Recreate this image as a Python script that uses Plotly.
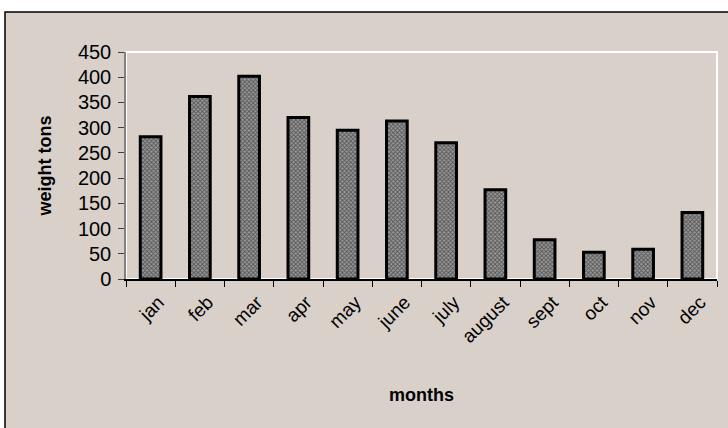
import plotly.graph_objects as go

months = ["jan", "feb", "mar", "apr", "may", "june", "july", "august", "sept", "oct", "nov", "dec"]
weight_tons = [282, 362, 402, 320, 295, 313, 270, 177, 78, 53, 59, 132]
y_ticks = [0, 50, 100, 150, 200, 250, 300, 350, 400, 450]

W, H = 728, 428
L, R, T, B = 126, 11, 52, 149
pw, ph = W - L - R, H - T - B

def px_x(x):
    return (x - L) / pw

def px_y(y):
    return (H - B - y) / ph

bg = "#d9d0ca"
font = "Liberation Sans, Arial, sans-serif"

fig = go.Figure(go.Bar(
    x=months, y=weight_tons, width=0.42,
    marker=dict(
        color="#808080",
        line=dict(color="black", width=3),
        pattern=dict(shape="x", size=3, solidity=0.5, fgcolor="#555555", bgcolor="#9a9a9a", fillmode="replace"),
    ),
))

fig.update_layout(
    width=W, height=H,
    margin=dict(l=L, r=R, t=T, b=B, pad=0),
    paper_bgcolor="white",
    plot_bgcolor=bg,
    showlegend=False,
    font=dict(family=font, color="black"),
    shapes=[
        dict(type="rect", xref="paper", yref="paper",
             x0=px_x(5), x1=px_x(740), y0=px_y(440), y1=px_y(12),
             fillcolor=bg, line=dict(color="black", width=1.5), layer="below"),
        dict(type="rect", xref="paper", yref="paper",
             x0=0, x1=1, y0=0, y1=1,
             fillcolor=bg, line=dict(color="white", width=2), layer="below"),
    ],
)

fig.update_xaxes(
    type="category", tickangle=-45, tickfont=dict(size=19, family=font),
    ticks="outside", ticklen=6, tickcolor="black", tickson="boundaries",
    showline=True, linecolor="black", linewidth=1.5, showgrid=False, zeroline=False,
    ticklabelstandoff=3, ticklabelshift=8,
    title=dict(text="<b>months</b>", font=dict(size=18, family=font), standoff=42),
)
fig.update_yaxes(
    range=[0, 450], tickvals=y_ticks, tickfont=dict(size=20, family=font),
    ticks="outside", ticklen=6, tickcolor="#404040",
    showline=True, linecolor="#808080", linewidth=1.5, showgrid=False, zeroline=False,
    ticklabelstandoff=3,
    title=dict(text="<b>weight tons</b>", font=dict(size=18, family=font), standoff=22),
)

fig.write_html("out.html")
